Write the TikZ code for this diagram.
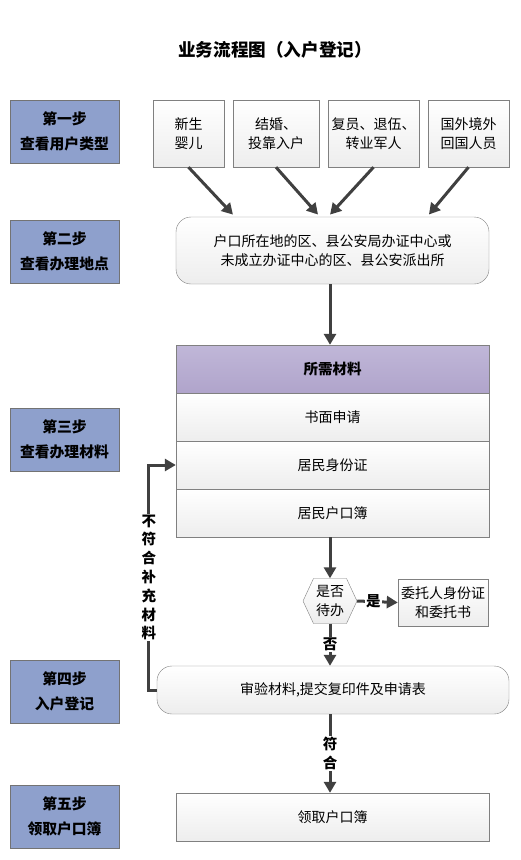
\documentclass[tikz,border=0pt]{standalone}
\usepackage{fontspec}
\setmainfont{Noto Sans CJK SC}
\usetikzlibrary{arrows.meta,shapes.symbols}
\definecolor{stepblue}{RGB}{142,160,204}
\definecolor{hdrtop}{RGB}{192,183,216}
\definecolor{hdrbot}{RGB}{176,164,203}
\definecolor{arrowgray}{RGB}{64,64,64}
\begin{document}
\begin{tikzpicture}[
    x=1pt, y=-1pt,
    SB/.style={draw=gray!90!black,fill=stepblue,minimum width=109pt,minimum height=63pt,inner sep=0pt,align=center,font=\bfseries\fontsize{14.8}{25}\selectfont},
    TB/.style={draw=gray,top color=white,bottom color=gray!14,inner sep=0pt,align=center,font=\fontsize{14}{19}\selectfont},
    RB/.style={TB,rounded corners=15pt},
    AR/.style={draw=arrowgray,line width=3pt,-{Triangle[length=11pt,width=12pt]}},
    LB/.style={fill=white,inner sep=1pt,align=center,font=\bfseries\fontsize{14.5}{18.8}\selectfont}
    ]
    \useasboundingbox (0,0) rectangle (520,860);
    \node [font=\bfseries\fontsize{17.6}{20}\selectfont] (title) at (275,50) {业务流程图（入户登记）};
    % steps
    \node [SB] (s1) at (64.5,131.5) {第一步\\查看用户类型};
    \node [SB] (s2) at (64.5,251.5) {第二步\\查看办理地点};
    \node [SB] (s3) at (64.5,439.5) {第三步\\查看办理材料};
    \node [SB] (s4) at (64.5,691.5) {第四步\\入户登记};
    \node [SB] (s5) at (64.5,816.5) {第五步\\领取户口簿};
    % user types
    \node [TB,minimum width=71pt,minimum height=67pt] (u1) at (188.5,133.5) {新生\\婴儿};
    \node [TB,minimum width=86pt,minimum height=67pt] (u2) at (276,133.5) {结婚、\\投靠入户};
    \node [TB,minimum width=91pt,minimum height=67pt] (u3) at (373.5,133.5) {复员、退伍、\\转业军人};
    \node [TB,minimum width=81pt,minimum height=67pt] (u4) at (468.5,133.5) {国外境外\\回国人员};
    \node [RB,minimum width=313pt,minimum height=67pt] (place) at (332.5,250.5) {户口所在地的区、县公安局办证中心或\\未成立办证中心的区、县公安派出所};
    % materials
    \node [draw=gray,top color=hdrtop,bottom color=hdrbot,minimum width=313pt,minimum height=48pt,inner sep=0pt,font=\bfseries\fontsize{14.5}{18}\selectfont] (hdr) at (332.5,369) {所需材料};
    \node [TB,minimum width=313pt,minimum height=48pt] (rowA) at (332.5,417) {书面申请};
    \node [TB,minimum width=313pt,minimum height=48pt] (rowB) at (332.5,465) {居民身份证};
    \node [TB,minimum width=313pt,minimum height=48pt] (rowC) at (332.5,513) {居民户口簿};
    \node [TB,signal,signal to=west and east,signal pointer angle=130,minimum width=54pt,minimum height=45pt] (chk) at (330,601) {是否\\待办};
    \node [TB,minimum width=90pt,minimum height=47pt] (auth) at (443,602.5) {委托人身份证\\和委托书};
    \node [RB,minimum width=352pt,minimum height=48pt] (check) at (333,690) {审验材料,提交复印件及申请表};
    \node [TB,minimum width=313pt,minimum height=48pt] (final) at (332.5,817) {领取户口簿};
    % arrows
    \draw [AR,shorten >=3pt] (u1.south) -- ([xshift=-97.5pt]place.north);
    \draw [AR,shorten >=3pt] (u2.south) -- ([xshift=-12.5pt]place.north);
    \draw [AR,shorten >=3pt] (u3.south) -- ([xshift=-4.5pt]place.north);
    \draw [AR,shorten >=3pt] (u4.south) -- ([xshift=94.5pt]place.north);
    \draw [AR] (place.south -| chk) -- (hdr.north -| chk);
    \draw [AR] (rowC.south -| chk) -- (chk.north);
    \draw [AR] (chk.east) -- node [LB,pos=0.4] {是} (auth.west);
    \draw [AR] (chk.south) -- node [LB] {否} (check.north -| chk);
    \draw [AR] (check.south -| chk) -- node [LB] {符\\合} (final.north -| chk);
    \draw [AR] (check.west) -- ++(-8,0) |- node [LB,pos=0.25] {不\\符\\合\\补\\充\\材\\料} (rowB.west);
\end{tikzpicture}
\end{document}
